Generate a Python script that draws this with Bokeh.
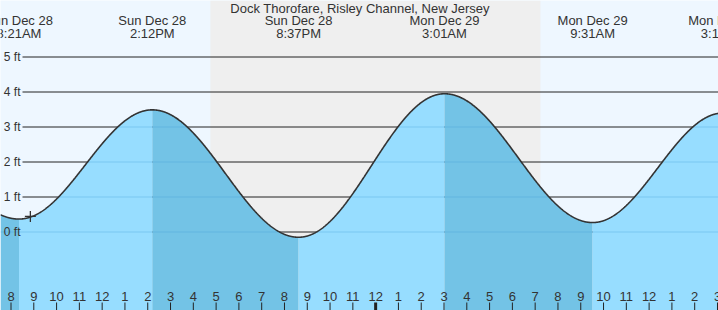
import math
import numpy as np
from bokeh.plotting import figure
from bokeh.models import Range1d, Label
from bokeh.core.properties import value
from bokeh.embed import file_html
from bokeh.resources import INLINE

# ---- data (hours from midnight starting Sun Dec 28) ----
station = "Dock Thorofare, Risley Channel, New Jersey"
extreme_hours = [2.0, 8.35, 14.2, 20.62, 27.02, 33.52, 39.25]
extreme_heights = [3.5, 0.37, 3.49, -0.15, 3.95, 0.27, 3.4]
extreme_day = ["Sun Dec 28", "Sun Dec 28", "Sun Dec 28", "Sun Dec 28", "Mon Dec 29", "Mon Dec 29", "Mon Dec 29"]
extreme_time = ["1:59AM", "8:21AM", "2:12PM", "8:37PM", "3:01AM", "9:31AM", "3:15PM"]
sunset_hour = 16.75
sunrise_hour = 31.23
now_hour = 8.85
height_ticks = [0, 1, 2, 3, 4, 5]
height_labels = ["0 ft", "1 ft", "2 ft", "3 ft", "4 ft", "5 ft"]
hour_ticks = list(range(8, 40))
hour_labels = [str((h - 1) % 12 + 1) for h in hour_ticks]

# ---- layout ----
W, H = 718, 310
XPX = 22.79   # px per hour
YPX = 35.0    # px per ft
x0 = 8 - 10.5 / XPX
x1 = x0 + W / XPX
y1 = 231.5 / YPX
y0 = y1 - H / YPX

def sy(px):  # screen px from top -> data y
    return y1 - px / YPX

def sx(px):
    return x0 + px / XPX

def tide(t):
    for i in range(len(extreme_hours) - 1):
        ta, tb = extreme_hours[i], extreme_hours[i + 1]
        if ta <= t <= tb:
            ha, hb = extreme_heights[i], extreme_heights[i + 1]
            f = (1 - math.cos(math.pi * (t - ta) / (tb - ta))) / 2
            return ha + (hb - ha) * f
    return extreme_heights[-1]

p = figure(width=W, height=H, output_backend="svg", toolbar_location=None,
           x_range=Range1d(x0, x1), y_range=Range1d(y0, y1),
           x_axis_location=None, y_axis_location=None, min_border=0)
p.grid.visible = False
p.outline_line_color = None
p.background_fill_color = "#eef7ff"
p.border_fill_color = "#eef7ff"

# night
p.quad(left=[sunset_hour], right=[sunrise_hour], bottom=[y0], top=[y1],
       fill_color="#efefef", line_color=None)

# dark gridlines
p.segment(x0=[sx(22)] * len(height_ticks), x1=[x1] * len(height_ticks),
          y0=height_ticks, y1=height_ticks, line_color="#222222", line_width=1)

# fills
bounds = [x0] + [h for h in extreme_hours if x0 < h < x1] + [x1]
for a, b in zip(bounds[:-1], bounds[1:]):
    ts = np.linspace(a, b, 120)
    hs = [tide(t) for t in ts]
    rising = hs[-1] > hs[0]
    p.varea(x=ts, y1=[y0] * len(ts), y2=hs,
            fill_color="#97ddff" if rising else "#73c3e6")

# faint gridlines inside the water only
ts = np.linspace(x0, x1, 2000)
hs = np.array([tide(t) for t in ts])
gx0, gx1, gy = [], [], []
for lvl in height_ticks:
    inside = hs > lvl
    i = 0
    while i < len(ts):
        if inside[i]:
            j = i
            while j + 1 < len(ts) and inside[j + 1]:
                j += 1
            gx0.append(ts[i]); gx1.append(ts[j]); gy.append(lvl)
            i = j + 1
        else:
            i += 1
p.segment(x0=gx0, x1=gx1, y0=gy, y1=gy, line_color="#3f9fd4", line_alpha=0.35, line_width=1)

# curve
p.line(ts, hs, line_color="#333333", line_width=1.6)

# now marker
p.scatter([now_hour], [tide(now_hour) + 0.02], marker="cross", size=11,
          line_color="#333333", line_width=1.3)

font = value("Liberation Sans")
# y labels
p.text(x=[sx(20)] * len(height_ticks), y=height_ticks, text=height_labels,
       text_font=font, text_font_size="12px", text_color="#333333",
       text_align="right", text_baseline="middle")

# x ticks
tick_w = [3 if h == 24 else 1 for h in hour_ticks]
p.segment(x0=hour_ticks, x1=hour_ticks, y0=[sy(302)] * len(hour_ticks),
          y1=[y0] * len(hour_ticks), line_color="#222222", line_width=tick_w)
p.text(x=hour_ticks, y=[sy(296)] * len(hour_ticks), text=hour_labels,
       text_font=font, text_font_size="13px", text_color="#333333",
       text_align="center", text_baseline="middle")

# extreme labels
p.text(x=extreme_hours, y=[sy(20)] * len(extreme_hours), text=extreme_day,
       text_font=font, text_font_size="13px", text_color="#333333",
       text_align="center", text_baseline="middle")
p.text(x=extreme_hours, y=[sy(32.5)] * len(extreme_hours), text=extreme_time,
       text_font=font, text_font_size="13px", text_color="#333333",
       text_align="center", text_baseline="middle")

p.add_layout(Label(x=359.5, y=H - 8, x_units="screen", y_units="screen", text=station,
                   text_font="Liberation Sans", text_font_size="13px", text_color="#333333",
                   text_align="center", text_baseline="middle"))

open("out.html", "w").write(file_html(p, INLINE))
